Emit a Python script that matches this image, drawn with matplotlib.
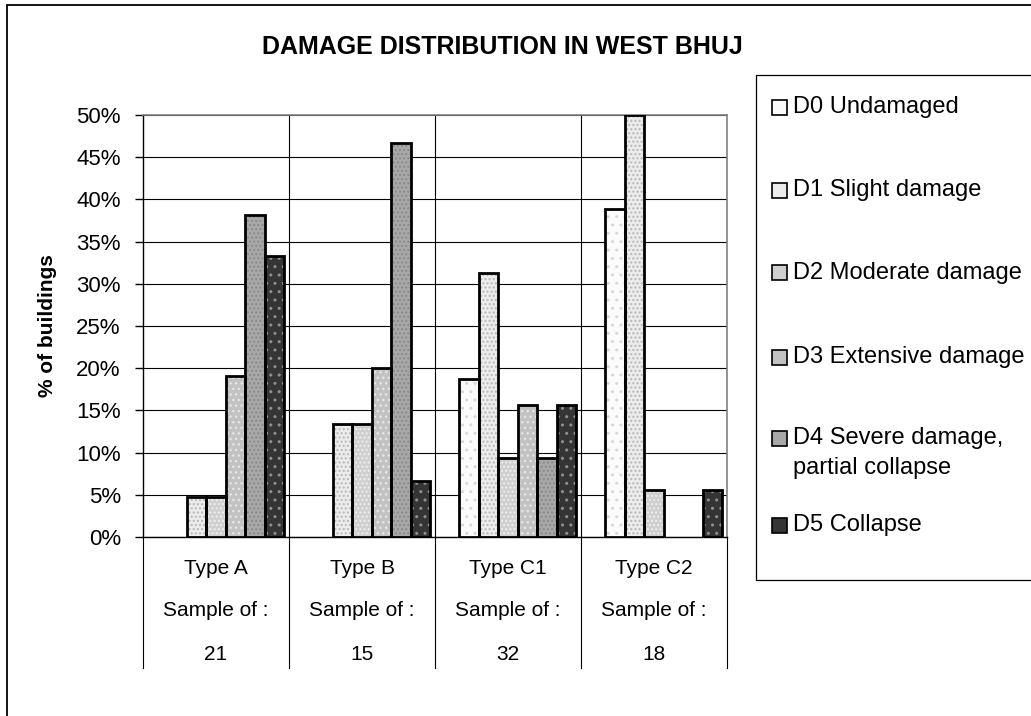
import numpy as np
import matplotlib
matplotlib.use("Agg")
import matplotlib.pyplot as plt
from matplotlib.patches import Rectangle
from matplotlib.transforms import blended_transform_factory

plt.rcParams['font.family'] = ['Liberation Sans', 'DejaVu Sans']
plt.rcParams['hatch.linewidth'] = 1.0

# data (% of buildings per damage grade)
types = ['Type A', 'Type B', 'Type C1', 'Type C2']
samples = [21, 15, 32, 18]
grades = ['D0 Undamaged', 'D1 Slight damage', 'D2 Moderate damage',
          'D3 Extensive damage', 'D4 Severe damage,\npartial collapse', 'D5 Collapse']
d0 = [0.0, 0.0, 18.75, 38.89]
d1 = [4.76, 13.33, 31.25, 50.0]
d2 = [4.76, 13.33, 9.38, 5.56]
d3 = [19.05, 20.0, 15.63, 0.0]
d4 = [38.10, 46.67, 9.38, 0.0]
d5 = [33.33, 6.67, 15.63, 5.56]
series = [d0, d1, d2, d3, d4, d5]

faces = ['#fbfbfb', '#ececec', '#cfcfcf', '#c2c2c2', '#a8a8a8', '#353535']
hatch_col = ['#d8d8d8', '#b8b8b8', '#eeeeee', '#e6e6e6', '#8a8a8a', '#909090']
hatches = ['..', '....', '....', '...', '....', '..']

W, H = 1031, 716
fig = plt.figure(figsize=(W / 100, H / 100), dpi=100)

def fx(px):
	return px / W

def fy(py):
	return 1 - py / H

# outer chart frame (cut by the image edge on right/bottom)
fig.add_artist(Rectangle((fx(7), fy(740)), fx(1060) - fx(7), fy(5) - fy(740),
                         transform=fig.transFigure, fill=False, ec='black', lw=1.3))

left, right, top, bottom = 143, 727, 115, 537
ax = fig.add_axes([fx(left), fy(bottom), fx(right) - fx(left), fy(top) - fy(bottom)])

x = np.arange(len(types))
w = 1 / 7.5
for i, vals in enumerate(series):
	vals = np.array(vals)
	keep = vals > 0		# Excel draws nothing for empty grades
	pos = (x + (i - 2.5) * w)[keep]
	ax.bar(pos, vals[keep], w, align='edge', color=faces[i], edgecolor=hatch_col[i],
	       hatch=hatches[i], linewidth=0, zorder=3)
	ax.bar(pos, vals[keep], w, align='edge', fill=False, edgecolor='black',
	       linewidth=2.0, zorder=4)

ax.set_xlim(-0.5, 3.5)
ax.set_ylim(0, 50)
ax.set_yticks(np.arange(0, 51, 5))
ax.set_yticklabels(['%d%%' % v for v in range(0, 51, 5)], fontsize=16)
ax.tick_params(axis='y', direction='out', length=6, width=1, pad=10)
ax.set_xticks([])
ax.yaxis.grid(True, color='black', linewidth=0.8, zorder=0)
for sep in [0.5, 1.5, 2.5]:
	ax.axvline(sep, color='black', linewidth=0.8, zorder=1)
for s in ['top', 'right']:
	ax.spines[s].set_color('#808080')
	ax.spines[s].set_linewidth(1.2)
ax.spines['left'].set_linewidth(1.0)
ax.spines['bottom'].set_linewidth(1.0)

ax.set_ylabel('% of buildings', fontsize=15, fontweight='bold', labelpad=14)

# category table below the axis
trans = blended_transform_factory(ax.transData, ax.transAxes)
span = bottom - top
low = -(668 - bottom) / span
for sep in [-0.5, 0.5, 1.5, 2.5, 3.5]:
	ax.plot([sep, sep], [0, low], transform=trans, color='black', lw=0.8, clip_on=False)
rows = [568, 611, 654]
for i, t in enumerate(types):
	ax.text(i, -(rows[0] - bottom) / span, t, transform=trans, ha='center', va='center', fontsize=15)
	ax.text(i, -(rows[1] - bottom) / span, 'Sample of :', transform=trans, ha='center', va='center', fontsize=15)
	ax.text(i, -(rows[2] - bottom) / span, str(samples[i]), transform=trans, ha='center', va='center', fontsize=15)

fig.text(fx(502), fy(47), 'DAMAGE DISTRIBUTION IN WEST BHUJ', ha='center', va='center',
         fontsize=18, fontweight='bold')

# legend box
fig.add_artist(Rectangle((fx(756), fy(580)), fx(1060) - fx(756), fy(75) - fy(580),
                         transform=fig.transFigure, fill=False, ec='black', lw=0.9))
leg_y = [107, 190, 273, 357, 438, 525]
for i, g in enumerate(grades):
	yy = leg_y[i]
	fig.add_artist(Rectangle((fx(772), fy(yy + 7.5)), fx(15), 15 / H, transform=fig.transFigure,
	                         fc=faces[i], ec='black', lw=1.2))
	lines = g.split('\n')
	for k, ln in enumerate(lines):
		fig.text(fx(793), fy(yy + 30 * k), ln, ha='left', va='center', fontsize=17)

fig.savefig('out.png', dpi=100)
